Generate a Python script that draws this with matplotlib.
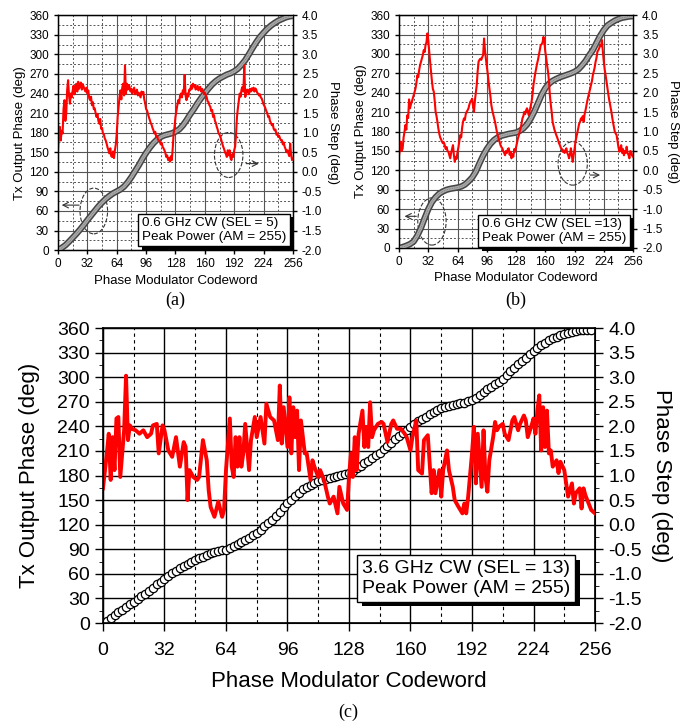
import numpy as np
import matplotlib
matplotlib.use("Agg")
import matplotlib.pyplot as plt
from matplotlib.patches import Ellipse
import matplotlib.patheffects as pe

plt.rcParams["font.family"] = ["Liberation Sans", "DejaVu Sans"]
plt.rcParams["axes.unicode_minus"] = False

# ---- data: panel (a) 0.6 GHz, SEL = 5 ----
a_phase_cw = list(range(0, 257, 4))
a_phase = [0, 3.5, 7.5, 13, 19, 25, 31.5, 38.5, 46, 53, 60, 67, 73, 78.5, 83, 87,
           90, 93, 97.5, 104, 112, 121, 130, 140, 149, 157, 164, 169.5, 173.5, 176,
           177.5, 179, 181.5, 185, 191, 199, 208, 216, 225, 233, 240.5, 247.5, 254,
           259, 263, 266, 269, 271, 274, 278, 284, 291, 300, 309.5, 318.5, 326.5,
           333, 339, 344, 348, 351.5, 354, 356.5, 358, 359]
a_step = [0.55, 0.95, 1.15, 0.80, 1.05, 0.98, 1.60, 1.83, 1.30, 1.49,
          2.10, 2.34, 1.95, 1.74, 2.00, 1.90, 2.08, 2.20, 1.98, 2.17,
          2.25, 2.05, 2.30, 2.12, 2.21, 2.28, 2.10, 2.24, 2.17, 2.10,
          2.05, 2.15, 2.00, 2.08, 1.88, 1.83, 1.92, 1.70, 1.78, 1.60,
          1.62, 1.50, 1.40, 1.48, 1.30, 1.23, 1.35, 1.10, 1.12, 0.98,
          0.95, 0.85, 0.80, 0.72, 0.62, 0.55, 0.47, 0.60, 0.40, 0.38,
          0.52, 0.35, 0.55, 0.70, 0.98, 1.40, 1.66, 1.90, 2.08, 1.85,
          2.15, 2.25, 1.95, 2.72, 2.00, 2.25, 2.10, 2.22, 2.17, 2.05,
          2.12, 2.00, 2.08, 2.15, 1.98, 2.04, 2.10, 1.95, 2.02, 1.96,
          1.90, 2.05, 1.98, 2.04, 1.85, 1.75, 1.60, 1.57, 1.48, 1.40,
          1.32, 1.25, 1.20, 1.12, 1.06, 0.98, 1.02, 0.89, 0.92, 0.82,
          0.80, 0.77, 0.70, 0.74, 0.64, 0.60, 0.55, 0.48, 0.38, 0.42,
          0.30, 0.35, 0.26, 0.40, 0.30, 0.60, 0.98, 1.15, 1.40, 1.55,
          1.70, 1.83, 1.75, 1.95, 2.00, 1.90, 2.08, 2.02, 2.47, 1.95,
          1.83, 2.00, 1.92, 2.10, 2.08, 2.20, 2.12, 2.25, 2.18, 2.22,
          2.10, 2.17, 2.20, 2.08, 2.15, 2.17, 2.05, 2.12, 2.08, 1.98,
          2.02, 1.95, 1.91, 1.80, 1.78, 1.70, 1.66, 1.55, 1.58, 1.40,
          1.45, 1.30, 1.25, 1.15, 1.08, 0.98, 0.95, 0.89, 0.80, 0.72,
          0.64, 0.58, 0.50, 0.45, 0.38, 0.55, 0.42, 0.55, 0.35, 0.30,
          0.45, 0.38, 0.55, 0.64, 0.95, 1.40, 1.62, 1.80, 2.00, 1.92,
          2.10, 2.17, 2.05, 2.72, 1.91, 2.00, 2.10, 2.08, 1.98, 2.12,
          2.05, 2.13, 2.08, 2.15, 2.05, 2.13, 2.10, 2.02, 2.00, 1.95,
          1.98, 1.90, 1.87, 1.80, 1.72, 1.68, 1.62, 1.55, 1.50, 1.40,
          1.42, 1.30, 1.25, 1.19, 1.22, 1.10, 1.06, 1.08, 0.95, 0.98,
          0.89, 0.92, 0.85, 0.80, 0.81, 0.70, 0.75, 0.64, 0.58, 0.50,
          0.55, 0.47, 0.40, 0.72, 0.45, 0.30, 0.35]

# ---- data: panel (b) 0.6 GHz, SEL = 13 ----
b_phase_cw = list(range(0, 257, 4))
b_phase = [0, 1.5, 3.5, 6, 10, 19, 31, 46, 60, 71, 78.5, 84, 87.5, 90, 91.5, 92.5,
           93.5, 95, 98, 103, 109, 118, 131, 143, 153, 161, 167, 171, 173.5, 175,
           176.5, 177.5, 178.5, 181, 185, 191, 200, 211, 224, 237, 247, 254, 258.5,
           261.5, 264, 266, 268, 270, 272.5, 276, 282, 289, 298, 306, 317, 328, 337,
           344, 348, 351.5, 354, 356, 357, 358, 358.5]
b_step = [0.39, 0.55, 0.74, 0.50, 0.57, 0.85, 1.00, 1.17, 1.05, 1.42,
          1.35, 1.83, 1.60, 1.70, 1.77, 1.85, 1.94, 2.02, 2.11, 2.25,
          2.45, 2.40, 2.58, 2.71, 2.80, 2.90, 2.97, 3.10, 3.05, 3.23,
          3.30, 3.53, 3.35, 3.06, 2.80, 2.54, 2.30, 2.10, 2.03, 1.80,
          1.51, 1.40, 1.25, 1.08, 0.95, 0.85, 0.80, 0.74, 0.70, 0.72,
          0.65, 0.55, 0.60, 0.50, 0.48, 0.40, 0.31, 0.45, 0.55, 0.65,
          0.40, 0.22, 0.35, 0.30, 0.48, 0.60, 0.75, 0.91, 0.85, 1.10,
          1.25, 1.34, 1.30, 1.45, 1.51, 1.55, 1.60, 1.70, 1.77, 1.80,
          1.85, 1.65, 1.51, 1.80, 2.00, 2.20, 2.55, 2.80, 2.85, 2.88,
          2.85, 2.92, 2.97, 3.40, 3.10, 2.88, 2.70, 2.50, 2.28, 2.10,
          1.90, 1.68, 1.55, 1.45, 1.35, 1.25, 1.12, 1.00, 0.90, 0.82,
          0.75, 0.65, 0.60, 0.57, 0.50, 0.45, 0.39, 0.50, 0.45, 0.55,
          0.57, 0.40, 0.48, 0.31, 0.42, 0.35, 0.55, 0.48, 0.60, 0.70,
          0.82, 0.90, 1.00, 1.08, 1.20, 1.34, 1.40, 1.51, 1.45, 1.55,
          1.60, 1.50, 1.42, 1.55, 1.65, 1.77, 1.95, 2.20, 2.35, 2.50,
          2.63, 2.75, 2.85, 2.97, 3.10, 3.23, 3.25, 3.30, 3.44, 3.30,
          3.06, 2.90, 2.70, 2.54, 2.30, 1.94, 1.70, 1.50, 1.25, 1.15,
          1.05, 0.98, 0.91, 0.85, 0.78, 0.70, 0.65, 0.58, 0.55, 0.48,
          0.52, 0.45, 0.50, 0.57, 0.45, 0.40, 0.31, 0.42, 0.57, 0.40,
          0.22, 0.40, 0.55, 0.74, 0.85, 0.95, 1.08, 1.20, 1.25, 1.34,
          1.30, 1.40, 1.25, 1.45, 1.55, 1.68, 1.80, 1.90, 2.00, 2.10,
          2.20, 2.30, 2.45, 2.55, 2.65, 2.80, 2.90, 3.06, 3.10, 3.15,
          3.23, 3.20, 3.36, 3.05, 2.80, 2.60, 2.45, 2.28, 2.10, 1.95,
          1.80, 1.68, 1.55, 1.40, 1.25, 1.12, 1.00, 0.95, 0.91, 0.75,
          0.60, 0.48, 0.55, 0.65, 0.45, 0.55, 0.39, 0.50, 0.45, 0.61,
          0.45, 0.40, 0.31, 0.50, 0.48, 0.38, 0.35]

# ---- data: panel (c) 3.6 GHz, SEL = 13 ----
c_phase_cw = list(range(0, 255, 2))
c_phase = [0, 3, 6, 9.5, 13, 16, 19.5, 23, 26, 29.5, 33, 36, 39.5, 43, 47, 50.5,
           54, 57.5, 60.5, 64, 67, 69.5, 72, 75, 77, 79, 81, 83, 85, 86.5, 88, 89,
           89.5, 91.5, 94, 96.5, 99, 101.5, 104, 107, 110, 114, 118, 122, 126, 131,
           136, 141, 146, 150.5, 155, 159, 163, 165.5, 168, 171, 173, 174.5, 176,
           177, 178, 179, 180.5, 181.5, 183, 186, 189, 192, 195, 198, 201.5, 205,
           208, 212, 216, 220, 224, 228, 231.5, 235.5, 239, 242.5, 246, 249, 252,
           255, 257.5, 260, 262, 263.5, 265, 266, 267, 268, 269, 270.5, 272, 275,
           278.5, 282, 285, 288, 291.5, 294.5, 298, 302.5, 307, 311.5, 316, 320,
           324, 328, 332, 335.5, 339, 342, 345, 347.5, 349.5, 351.5, 353, 354, 355,
           356, 357, 357.5, 358, 358]
c_step_cw = [0, 1, 2, 3, 4, 5, 6, 7, 8, 9,
             10, 11, 12, 13, 14, 15, 17, 19, 21, 23,
             25, 26, 28, 29, 31, 32, 34, 36, 38, 40,
             42, 43, 44, 45, 47, 49, 50, 52, 54, 55,
             56, 58, 60, 62, 63, 64, 66, 67, 68, 69,
             70, 71, 72, 73, 74, 76, 77, 79, 80, 82,
             84, 85, 87, 89, 91, 92, 93, 94, 96, 97,
             98, 99, 100, 101, 102, 103, 105, 106, 108, 109,
             110, 112, 113, 115, 117, 118, 120, 122, 123, 125,
             127, 128, 129, 130, 131, 132, 133, 135, 136, 137,
             138, 139, 140, 141, 143, 145, 146, 148, 150, 151,
             153, 155, 157, 158, 160, 161, 163, 164, 166, 167,
             169, 170, 171, 172, 173, 175, 176, 177, 179, 180,
             182, 183, 185, 187, 188, 189, 190, 192, 193, 194,
             195, 197, 198, 199, 200, 201, 203, 204, 205, 206,
             208, 209, 211, 213, 214, 216, 217, 219, 220, 221,
             223, 224, 225, 226, 227, 228, 229, 230, 231, 232,
             233, 234, 236, 237, 238, 240, 241, 242, 244, 245,
             246, 248, 249, 250, 251, 252, 254, 256]
c_step = [0.74, 1.10, 1.45, 1.85, 0.91, 1.78, 1.11, 2.16, 2.19, 0.97,
          1.45, 1.92, 3.03, 1.72, 2.02, 1.95, 1.92, 1.85, 1.92, 1.78,
          1.85, 2.02, 2.05, 1.45, 2.02, 1.92, 1.51, 1.38, 1.78, 1.18,
          1.68, 1.58, 0.50, 1.11, 0.97, 0.91, 0.97, 1.72, 1.31, 0.70,
          0.36, 0.16, 0.47, 0.16, 0.30, 1.11, 2.16, 1.18, 0.97, 1.78,
          1.18, 1.78, 1.18, 1.45, 2.05, 1.11, 1.72, 2.19, 1.78, 2.19,
          1.65, 2.46, 2.19, 2.12, 1.72, 2.83, 1.65, 2.39, 1.58, 2.59,
          1.45, 2.39, 1.78, 2.32, 1.11, 2.12, 1.45, 1.45, 0.91, 1.31,
          1.18, 0.97, 1.11, 0.91, 0.57, 0.43, 0.57, 0.23, 0.77, 0.43,
          0.30, 0.97, 1.45, 0.97, 1.78, 1.11, 1.85, 2.32, 1.58, 1.99,
          1.58, 2.49, 1.78, 1.92, 2.05, 2.09, 2.05, 1.68, 2.05, 2.12,
          1.95, 1.95, 1.85, 1.78, 1.51, 1.78, 2.12, 1.11, 1.04, 1.72,
          1.82, 1.24, 0.64, 1.11, 0.64, 1.11, 0.57, 1.11, 1.51, 1.11,
          0.77, 0.50, 0.36, 0.23, 0.43, 0.23, 0.57, 1.45, 1.99, 0.84,
          1.85, 0.77, 1.92, 0.97, 0.67, 1.31, 1.78, 2.09, 1.92, 1.99,
          2.05, 1.85, 1.72, 2.12, 2.19, 1.92, 2.05, 2.22, 2.12, 1.78,
          2.02, 2.16, 1.85, 2.32, 2.63, 1.51, 2.39, 1.58, 2.32, 1.45,
          1.51, 1.18, 1.31, 1.05, 1.28, 1.11, 0.84, 0.57, 0.84, 0.43,
          0.64, 0.74, 0.33, 0.74, 0.60, 0.50, 0.30, 0.23]

xticks = [0, 32, 64, 96, 128, 160, 192, 224, 256]
yticks_left = list(range(0, 361, 30))
yticks_right = [-2.0, -1.5, -1.0, -0.5, 0.0, 0.5, 1.0, 1.5, 2.0, 2.5, 3.0, 3.5, 4.0]


def setup_axes(ax, big):
    fs_tick = 14 if big else 8.5
    fs_lab = 16 if big else 9.5
    ax.set_xlim(0, 256)
    ax.set_ylim(0, 360)
    ax.set_xticks(xticks)
    ax.set_xticks([16 + 32 * k for k in range(8)], minor=True)
    ax.set_yticks(yticks_left)
    ax.set_yticks([15 + 30 * k for k in range(12)], minor=True)
    gcol = "black" if big else "#555555"
    ax.grid(True, which="major", color=gcol, lw=1.0 if big else 0.8, ls="-")
    if big:
        ax.xaxis.grid(True, which="minor", color="black", lw=0.8, ls=(0, (3, 3)))
    else:
        ax.grid(True, which="minor", color=gcol, lw=0.7, ls=(0, (2, 2)))
    ax.set_axisbelow(True)
    ax.tick_params(axis="both", which="major", labelsize=fs_tick, direction="out",
                   length=6 if big else 3, width=1)
    ax.tick_params(axis="x", which="major", pad=8 if big else 3)
    ax.tick_params(axis="x", which="minor", length=0)
    ax.tick_params(axis="y", which="minor", length=3 if big else 0, direction="out")
    ax.set_xlabel("Phase Modulator Codeword", fontsize=fs_lab, labelpad=8 if big else 3)
    ax.set_ylabel("Tx Output Phase (deg)", fontsize=fs_lab, labelpad=12 if big else 2)
    for s in ax.spines.values():
        s.set_linewidth(1.2 if big else 1.0)

    ax2 = ax.twinx()
    ax2.set_ylim(-2.0, 4.0)
    ax2.set_yticks(yticks_right)
    ax2.set_yticklabels([f"{v:.1f}" for v in yticks_right])
    if big:
        ax2.set_yticks([-1.75 + 0.5 * k for k in range(12)], minor=True)
    ax2.tick_params(axis="y", which="major", labelsize=fs_tick, direction="out",
                    length=6 if big else 3, width=1)
    ax2.tick_params(axis="y", which="minor", length=3, direction="out")
    ax2.set_ylabel("Phase Step (deg)", fontsize=fs_lab, rotation=270,
                   labelpad=22 if big else 12)
    return ax2


def note(ax, txt, xy, fs, off):
    t = ax.text(xy[0], xy[1], txt, transform=ax.transAxes, fontsize=fs,
                ha="center", va="center", multialignment="left", zorder=10,
                bbox=dict(boxstyle="square,pad=0.25", fc="white", ec="black", lw=1))
    t.get_bbox_patch().set_path_effects([
        pe.SimplePatchShadow(offset=(off, -off), shadow_rgbFace="black", alpha=1.0),
        pe.Normal()])


def band(ax, x, y):
    # thick grey band with darker rim, like the measured marker trace
    ax.plot(x, y, color="#444444", lw=4.6, solid_capstyle="round", zorder=3)
    ax.plot(x, y, color="#a8a8a8", lw=2.4, solid_capstyle="round", zorder=3)
    ax.plot(x, y, color="#666666", lw=0.5, ls=(0, (1, 1.5)), zorder=3)


fig = plt.figure(figsize=(6.93, 7.23), dpi=100)
ax_a = fig.add_axes([0.0837, 0.654, 0.339, 0.325])
ax_b = fig.add_axes([0.5758, 0.657, 0.3377, 0.322])
ax_c = fig.add_axes([0.1486, 0.1383, 0.71, 0.408])

# panel (a)
ax_a2 = setup_axes(ax_a, False)
band(ax_a, a_phase_cw, a_phase)
ax_a2.plot(range(257), a_step, color="red", lw=1.5)
ax_a.add_patch(Ellipse((39, 60), 30, 70, fill=False, ls="--", lw=0.8, ec="#333333"))
ax_a.annotate("", xy=(1, 69), xytext=(26, 69),
              arrowprops=dict(arrowstyle="->", lw=0.8, color="#333333"))
ax_a2.add_patch(Ellipse((186, 0.43), 31, 1.15, fill=False, ls="--", lw=0.8, ec="#333333"))
ax_a2.annotate("", xy=(222, 0.21), xytext=(202, 0.21),
               arrowprops=dict(arrowstyle="->", lw=0.8, color="#333333"))
note(ax_a, "0.6 GHz CW (SEL = 5)\nPeak Power (AM = 255)", (0.664, 0.085), 9.7, 2.5)

# panel (b)
ax_b2 = setup_axes(ax_b, False)
band(ax_b, b_phase_cw, b_phase)
ax_b2.plot(range(257), b_step, color="red", lw=1.5)
ax_b.add_patch(Ellipse((36, 41), 31, 73, fill=False, ls="--", lw=0.8, ec="#333333"))
ax_b.annotate("", xy=(3, 49), xytext=(22, 49),
              arrowprops=dict(arrowstyle="->", lw=0.8, color="#333333"))
ax_b2.add_patch(Ellipse((190, 0.18), 32, 1.12, fill=False, ls="--", lw=0.8, ec="#333333"))
ax_b2.annotate("", xy=(223, -0.12), xytext=(206, -0.12),
               arrowprops=dict(arrowstyle="->", lw=0.8, color="#333333"))
note(ax_b, "0.6 GHz CW (SEL =13)\nPeak Power (AM = 255)", (0.662, 0.073), 9.7, 2.5)

# panel (c)
ax_c2 = setup_axes(ax_c, True)
ax_c.plot(c_phase_cw, c_phase, ls="none", marker="o", ms=6.0,
          mfc="white", mec="black", mew=0.9)
ax_c2.plot(c_step_cw, c_step, color="red", lw=2.8)
note(ax_c, "3.6 GHz CW (SEL = 13)\nPeak Power (AM = 255)", (0.738, 0.151), 14, 3.5)

for lbl, x, y in [("(a)", 175 / 693, 1 - 300 / 723), ("(b)", 516 / 693, 1 - 300 / 723),
                  ("(c)", 348 / 693, 1 - 712 / 723)]:
    fig.text(x, y, lbl, fontsize=13, ha="center", va="center",
             family=["Liberation Serif", "DejaVu Serif"])

fig.savefig("out.png", dpi=100)
